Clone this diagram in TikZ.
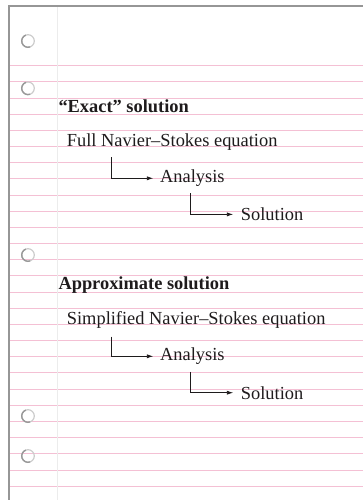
\documentclass[tikz,border=0pt]{standalone}
\usepackage{fontspec}
\setmainfont{Liberation Serif}
\usetikzlibrary{arrows.meta}
\definecolor{rulepink}{RGB}{244,192,212}
\definecolor{holegray}{RGB}{150,150,150}
\definecolor{inkgray}{RGB}{30,27,28}
\tikzset{
  txt/.style={anchor=base west, inner sep=0pt, text=inkgray, font=\fontsize{18.4}{22}\selectfont},
  head/.style={txt, font=\fontsize{18.4}{22}\selectfont\bfseries},
  conn/.style={draw=inkgray, line width=0.9pt, -{Latex[length=6.5pt,width=4.2pt]}}
}
\begin{document}
\begin{tikzpicture}[x=1pt, y=-1pt]
  \useasboundingbox (0,0) rectangle (363,500);
  % Paper rules
  \foreach \k in {0,...,26} \draw[rulepink, line width=0.9pt] (9,65.7+16.17*\k) -- (363,65.7+16.17*\k);
  % Margin and border
  \draw[gray!15, line width=1pt] (57.3,6) -- (57.3,500);
  \draw[holegray, line width=1.5pt] (9,500) -- (9,6) -- (363,6);
  % Binder holes
  \foreach \h in {41,88.3,255,416,456} {
    \draw[gray!40, line width=1.2pt] (28,\h) circle (6.3);
    \draw[gray!80, line width=1.4pt] (28,\h) ++(70:6.3) arc (70:250:6.3);
  }
  % "Exact" route
  \node[head] (exact) at (58.3,113) {``Exact'' solution};
  \node[txt] (full) at (66.7,146) {Full Navier--Stokes equation};
  \node[txt] (anaA) at (160,182.7) {Analysis};
  \node[txt] (solA) at (240.7,220.7) {Solution};
  \draw[conn] ([xshift=44.3pt,yshift=-7.3pt]full.south west) |- ([xshift=-6.7pt]anaA.west);
  \draw[conn] ([xshift=-1.5pt,yshift=-6.6pt]anaA.south) |- ([xshift=-7.4pt]solA.west);
  % Approximate route
  \node[head] (approx) at (58.3,289.5) {Approximate solution};
  \node[txt] (simp) at (66.7,324) {Simplified Navier--Stokes equation};
  \node[txt] (anaB) at (160,360.7) {Analysis};
  \node[txt] (solB) at (240.7,399) {Solution};
  \draw[conn] ([xshift=44.3pt,yshift=-8.5pt]simp.south west) |- ([xshift=-6.7pt]anaB.west);
  \draw[conn] ([xshift=-1.5pt,yshift=-7pt]anaB.south) |- ([xshift=-7.4pt]solB.west);
\end{tikzpicture}
\end{document}
